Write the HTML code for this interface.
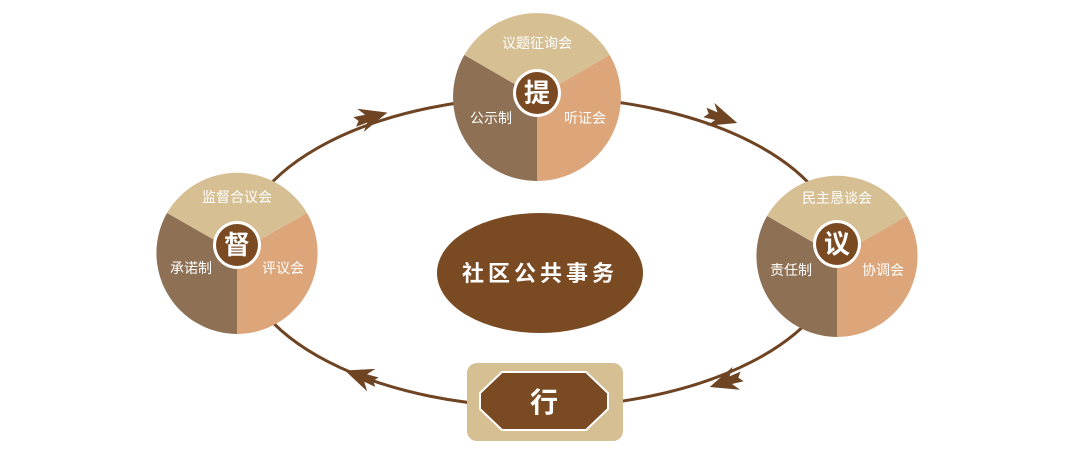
<!DOCTYPE html>
<html><head><meta charset="utf-8"><style>
html,body{margin:0;padding:0;background:#fff;}
svg{display:block;font-family:"Liberation Sans","Noto Sans CJK SC",sans-serif;}
</style></head><body>
<svg width="1080" height="457" viewBox="0 0 1080 457">
<defs>
<g id="arr"><path d="M16 0 L-12 -12 L-6 -4 L-18 -5 L-14 0 L-18 5 L-6 4 L-12 12 Z" fill="#6e4423"/></g>
</defs>
<ellipse cx="540" cy="252" rx="300" ry="155" fill="none" stroke="#6e4423" stroke-width="3"/>
<use href="#arr" transform="translate(372,117) rotate(-16)"/>
<use href="#arr" transform="translate(722,118) rotate(18)"/>
<use href="#arr" transform="translate(725,382) rotate(162)"/>
<use href="#arr" transform="translate(360,376) rotate(-160)"/>

<g transform="translate(537,97)">
<path d="M0 0 L-72.7 -42 A84 84 0 0 1 72.7 -42 Z" fill="#d5bf93"/>
<path d="M0 0 L72.7 -42 A84 84 0 0 1 0 84 Z" fill="#dca57a"/>
<path d="M0 0 L0 84 A84 84 0 0 1 -72.7 -42 Z" fill="#8e7054"/>
<circle cy="-4" r="24" fill="#fff"/><circle cy="-4" r="21" fill="#7a4a22"/>
<text y="5" text-anchor="middle" font-size="26" font-weight="bold" fill="#fff">提</text>
<text y="-49" text-anchor="middle" font-size="14" fill="#fff">议题征询会</text>
<text x="-46" y="26" text-anchor="middle" font-size="14" fill="#fff">公示制</text>
<text x="48" y="26" text-anchor="middle" font-size="14" fill="#fff">听证会</text>
</g>
<g transform="translate(837,256)">
<path d="M0 0 L-70 -40 A81 81 0 0 1 70 -40 Z" fill="#d5bf93"/>
<path d="M0 0 L70 -40 A81 81 0 0 1 0 81 Z" fill="#dca57a"/>
<path d="M0 0 L0 81 A81 81 0 0 1 -70 -40 Z" fill="#8e7054"/>
<circle cy="-12" r="24" fill="#fff"/><circle cy="-12" r="21" fill="#7a4a22"/>
<text y="-3" text-anchor="middle" font-size="26" font-weight="bold" fill="#fff">议</text>
<text y="-53" text-anchor="middle" font-size="14" fill="#fff">民主恳谈会</text>
<text x="-46" y="19" text-anchor="middle" font-size="14" fill="#fff">责任制</text>
<text x="46" y="19" text-anchor="middle" font-size="14" fill="#fff">协调会</text>
</g>
<g transform="translate(237,253)">
<path d="M0 0 L-70 -40 A81 81 0 0 1 70 -40 Z" fill="#d5bf93"/>
<path d="M0 0 L70 -40 A81 81 0 0 1 0 81 Z" fill="#dca57a"/>
<path d="M0 0 L0 81 A81 81 0 0 1 -70 -40 Z" fill="#8e7054"/>
<circle cy="-8" r="24" fill="#fff"/><circle cy="-8" r="21" fill="#7a4a22"/>
<text y="1" text-anchor="middle" font-size="26" font-weight="bold" fill="#fff">督</text>
<text y="-51" text-anchor="middle" font-size="14" fill="#fff">监督合议会</text>
<text x="-46" y="20" text-anchor="middle" font-size="14" fill="#fff">承诺制</text>
<text x="46" y="20" text-anchor="middle" font-size="14" fill="#fff">评议会</text>
</g>
<ellipse cx="540" cy="273" rx="103" ry="60" fill="#7a4a22"/>
<text x="540" y="281" text-anchor="middle" font-size="22" font-weight="bold" fill="#fff" letter-spacing="4">社区公共事务</text>
<rect x="467" y="363" width="156" height="78" rx="10" fill="#d5bf93"/>
<polygon points="502,372 586,372 608,393 608,409 586,430 502,430 480,409 480,393" fill="#7a4a22" stroke="#fff" stroke-width="2"/>
<text x="544" y="412" text-anchor="middle" font-size="28" font-weight="bold" fill="#fff">行</text>
</svg>
</body></html>
